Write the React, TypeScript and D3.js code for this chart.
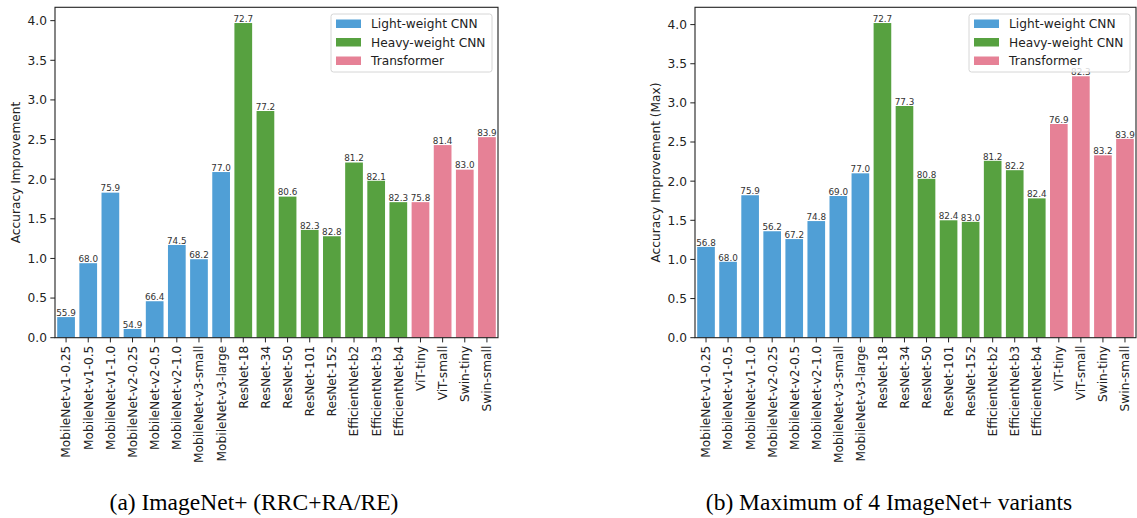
import * as d3 from 'd3';

const models = [
  'MobileNet-v1-0.25', 'MobileNet-v1-0.5', 'MobileNet-v1-1.0', 'MobileNet-v2-0.25',
  'MobileNet-v2-0.5', 'MobileNet-v2-1.0', 'MobileNet-v3-small', 'MobileNet-v3-large',
  'ResNet-18', 'ResNet-34', 'ResNet-50', 'ResNet-101', 'ResNet-152',
  'EfficientNet-b2', 'EfficientNet-b3', 'EfficientNet-b4',
  'ViT-tiny', 'ViT-small', 'Swin-tiny', 'Swin-small',
];
const groups = [0, 0, 0, 0, 0, 0, 0, 0, 1, 1, 1, 1, 1, 1, 1, 1, 2, 2, 2, 2];
const groupNames = ['Light-weight CNN', 'Heavy-weight CNN', 'Transformer'];
const groupColors = ['#509fd6', '#57a140', '#e68196'];

// (a) ImageNet+ (RRC+RA/RE)
const improveA = [0.26, 0.94, 1.83, 0.11, 0.46, 1.17, 0.99, 2.09, 3.97, 2.86, 1.78, 1.36, 1.28, 2.21, 1.98, 1.71, 1.71, 2.43, 2.12, 2.53];
const accA = ['55.9', '68.0', '75.9', '54.9', '66.4', '74.5', '68.2', '77.0', '72.7', '77.2', '80.6', '82.3', '82.8', '81.2', '82.1', '82.3', '75.8', '81.4', '83.0', '83.9'];

// (b) Maximum of 4 ImageNet+ variants
const improveB = [1.16, 0.97, 1.82, 1.36, 1.26, 1.49, 1.81, 2.10, 4.02, 2.96, 2.03, 1.50, 1.48, 2.26, 2.14, 1.78, 2.73, 3.34, 2.33, 2.54];
const accB = ['56.8', '68.0', '75.9', '56.2', '67.2', '74.8', '69.0', '77.0', '72.7', '77.3', '80.8', '82.4', '83.0', '81.2', '82.2', '82.4', '76.9', '82.3', '83.2', '83.9'];

const yTicks = [0, 0.5, 1, 1.5, 2, 2.5, 3, 3.5, 4];

const FONT = 'DejaVu Sans, sans-serif';
const FS = 12.2;

type PanelProps = {
  left: number; right: number; top: number; bottom: number;
  values: number[]; labels: string[]; yLabel: string; yLabelX: number;
  caption: string; captionX: number;
};

function Panel({ left, right, top, bottom, values, labels, yLabel, yLabelX, caption, captionX }: PanelProps) {
  const x = d3.scaleBand().domain(models).range([left, right]).paddingInner(0.2).paddingOuter(0.1);
  const yMax = (d3.max(values) as number) * 1.05;
  const y = d3.scaleLinear().domain([0, yMax]).range([bottom, top]);
  const fmt = d3.format('.1f');
  const legX = right - 167;
  return (
    <g>
      {values.map((v, i) => (
        <rect key={'b' + i} x={x(models[i])} y={y(v)} width={x.bandwidth()} height={bottom - y(v)} fill={groupColors[groups[i]]} />
      ))}
      {values.map((v, i) => (
        <text key={'l' + i} x={(x(models[i]) as number) + x.bandwidth() / 2} y={y(v) - 1.2} fontSize={8.8} fill="#333" textAnchor="middle" fontFamily={FONT}>{labels[i]}</text>
      ))}
      <rect x={left} y={top} width={right - left} height={bottom - top} fill="none" stroke="#222" strokeWidth={1.1} />
      {yTicks.map((t) => (
        <g key={'y' + t}>
          <line x1={left - 4.7} x2={left} y1={y(t)} y2={y(t)} stroke="#222" strokeWidth={1} />
          <text x={left - 8} y={y(t)} dy="0.36em" fontSize={FS} textAnchor="end" fill="#222" fontFamily={FONT}>{fmt(t)}</text>
        </g>
      ))}
      {models.map((m) => {
        const cx = (x(m) as number) + x.bandwidth() / 2;
        return (
          <g key={'x' + m}>
            <line x1={cx} x2={cx} y1={bottom} y2={bottom + 4.7} stroke="#222" strokeWidth={1} />
            <text transform={`translate(${cx},${bottom + 8}) rotate(-90)`} dy="0.36em" fontSize={FS} textAnchor="end" fill="#222" fontFamily={FONT}>{m}</text>
          </g>
        );
      })}
      <text transform={`translate(${yLabelX},${(top + bottom) / 2}) rotate(-90)`} dy="0.36em" fontSize={FS} textAnchor="middle" fill="#222" fontFamily={FONT}>{yLabel}</text>
      <rect x={legX} y={14} width={161} height={58} rx={2.5} fill="white" fillOpacity={0.8} stroke="#d6d6d6" strokeWidth={1} />
      {groupNames.map((g, i) => (
        <g key={'g' + i}>
          <rect x={legX + 5} y={19.5 + i * 18.5} width={25} height={8.5} fill={groupColors[i]} />
          <text x={legX + 40} y={23.7 + i * 18.5} dy="0.36em" fontSize={FS} fill="#222" fontFamily={FONT}>{g}</text>
        </g>
      ))}
      <text x={captionX} y={510} fontSize={23.5} textAnchor="middle" fill="#000" fontFamily="Liberation Serif, serif">{caption}</text>
    </g>
  );
}

export default function App() {
  return (
    <div style={{ position: 'absolute', left: 0, top: 0 }}>
      <svg width={1137} height={518} style={{ display: 'block', background: '#fff' }}>
        <Panel left={55} right={498} top={7.3} bottom={337.7} values={improveA} labels={accA}
          yLabel="Accuracy Improvement" yLabelX={15.5} caption="(a) ImageNet+ (RRC+RA/RE)" captionX={254} />
        <Panel left={695} right={1136} top={7.3} bottom={337.7} values={improveB} labels={accB}
          yLabel="Accuracy Improvement (Max)" yLabelX={656} caption="(b) Maximum of 4 ImageNet+ variants" captionX={889} />
      </svg>
    </div>
  );
}
